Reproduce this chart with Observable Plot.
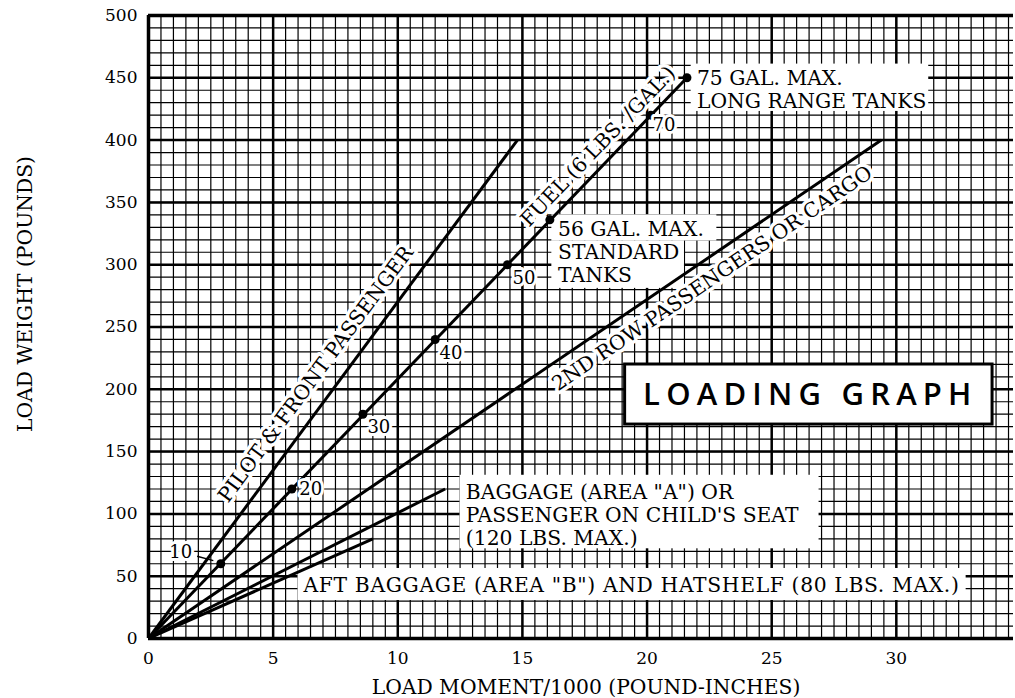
<!DOCTYPE html>
<html><head><meta charset="utf-8">
<script src="https://cdn.jsdelivr.net/npm/d3@7"></script>
<script src="https://cdn.jsdelivr.net/npm/@observablehq/plot@0.6"></script>
<style>body{margin:0;background:#fff} svg{display:block}</style>
</head><body><div id="chart"></div>
<script>
// ---- data ----
const xTicks = [0, 5, 10, 15, 20, 25, 30];
const yTicks = [0, 50, 100, 150, 200, 250, 300, 350, 400, 450, 500];
const lineNames = ["PILOT & FRONT PASSENGER", "FUEL", "2ND ROW PASSENGERS OR CARGO", "BAGGAGE A", "AFT BAGGAGE"];
const lineEndMoment = [14.8, 21.6, 29.4, 11.9, 9.0];
const lineEndWeight = [400, 450, 400, 120, 80];
const fuelGallons = [10, 20, 30, 40, 50, 56, 70, 75];
const fuelMoment = [2.9, 5.75, 8.6, 11.5, 14.4, 16.1, 20.15, 21.6];
const fuelWeight = [60, 120, 180, 240, 300, 336, 420, 450];
const fuelLabelText = ["10", "20", "30", "40", "50", "70"];
const xLabel = "LOAD MOMENT/1000 (POUND-INCHES)";
const yLabel = "LOAD WEIGHT (POUNDS)";
const title = "LOADING GRAPH";
const aftText = "AFT BAGGAGE (AREA \"B\") AND HATSHELF (80 LBS. MAX.)";

// annotation placement (data units)
const fuelLabelPos = [[1.29, 69], [6.51, 119.6], [9.24, 169.3], [12.13, 228.7], [15.06, 288.9], [20.68, 411.7]];
const boxNotes = [
  {x1: 12.5, x2: 26.9, y1: 72, y2: 131, x: 12.73, y: 99.5, text: "BAGGAGE (AREA \"A\") OR\nPASSENGER ON CHILD'S SEAT\n(120 LBS. MAX.)"},
  {x1: 6.0, x2: 32.8, y1: 30.5, y2: 56.2, x: 6.22, y: 43.3, text: aftText},
  {x1: 21.77, x2: 31.3, y1: 423, y2: 461, x: 22.0, y: 441, text: "75 GAL. MAX.\nLONG RANGE TANKS"},
  {x1: 16.18, x2: 22.8, y1: 319, y2: 340, x: 16.43, y: 310.6, text: "56 GAL. MAX.\nSTANDARD\nTANKS"}
];
const extraWhite = [{x1: 16.18, x2: 21.5, y1: 281, y2: 319}];
const titleBox = {x1: 19.12, x2: 33.86, y1: 171.7, y2: 219.9, x: 26.55, y: 195};
const lineLabels = [
  {x: 6.71, y: 212, rotate: -53.5, text: "PILOT & FRONT PASSENGER"},
  {x: 18.03, y: 394.9, rotate: -46.2, text: "FUEL (6 LBS. /GAL.)"},
  {x: 22.61, y: 288.9, rotate: -34.3, text: "2ND ROW PASSENGERS OR CARGO"}
];
const leader = [{a: 1.95, b: 66, c: 2.6, d: 62.5}];

const xMax = 34.7;
const lines = lineNames.map((n, i) => ({name: n, m: lineEndMoment[i], w: lineEndWeight[i]}));
const fuel = fuelGallons.map((g, i) => ({g, m: fuelMoment[i], w: fuelWeight[i]}));
const fuelLab = fuelLabelText.map((t, i) => ({t, x: fuelLabelPos[i][0], y: fuelLabelPos[i][1]}));

const serif = "DejaVu Serif";
const fs = 20.3;
const plot = Plot.plot({
  width: 1015, height: 698,
  marginLeft: 148, marginRight: 2, marginTop: 15, marginBottom: 60,
  style: {fontFamily: serif, fontSize: "17px", background: "white", color: "black"},
  x: {domain: [0, xMax]},
  y: {domain: [0, 500]},
  marks: [
    Plot.ruleX(d3.range(0, xMax, 0.5), {stroke: "black", strokeWidth: 1.2}),
    Plot.ruleY(d3.range(0, 501, 10), {stroke: "black", strokeWidth: 1.2}),
    Plot.ruleX(d3.range(0, xMax, 5), {stroke: "black", strokeWidth: 2.5}),
    Plot.ruleY(yTicks, {stroke: "black", strokeWidth: 2.5}),
    Plot.ruleX([0], {stroke: "black", strokeWidth: 3.5}),
    Plot.ruleY([0, 500], {stroke: "black", strokeWidth: 3.5}),
    Plot.axisX({ticks: xTicks, tickSize: 0, tickPadding: 13, label: null, fontSize: 17}),
    Plot.axisY({ticks: yTicks, tickSize: 0, tickPadding: 11, label: null, fontSize: 17}),
    Plot.rect(boxNotes, {x1: "x1", x2: "x2", y1: "y1", y2: "y2", fill: "white"}),
    Plot.rect(extraWhite, {x1: "x1", x2: "x2", y1: "y1", y2: "y2", fill: "white"}),
    Plot.rect([titleBox], {x1: "x1", x2: "x2", y1: "y1", y2: "y2", fill: "white", stroke: "black", strokeWidth: 3}),
    Plot.link(lines, {x1: () => 0, y1: () => 0, x2: "m", y2: "w", stroke: "black", strokeWidth: 3}),
    Plot.dot(fuel, {x: "m", y: "w", r: 4.5, fill: "black"}),
    Plot.link(leader, {x1: "a", y1: "b", x2: "c", y2: "d", stroke: "black", strokeWidth: 1.5}),
    Plot.text(fuelLab, {x: "x", y: "y", text: "t", fontSize: 18, fill: "black", stroke: "white", strokeWidth: 6}),
    Plot.text(lineLabels, {x: "x", y: "y", text: "text", rotate: "rotate", fontSize: fs, fill: "black", stroke: "white", strokeWidth: 7}),
    Plot.text(boxNotes, {x: "x", y: "y", text: "text", textAnchor: "start", lineAnchor: "middle", lineHeight: 1.15, fontSize: fs, fill: "black"}),
    Plot.text([titleBox], {x: "x", y: "y", text: () => title, fontFamily: "Open Sans", fontWeight: 600, fontSize: 31, fill: "black"}),
    Plot.text([xLabel], {frameAnchor: "bottom", textAnchor: "middle", lineAnchor: "middle", dx: 5, dy: 49, fontSize: fs, fill: "black"}),
    Plot.text([yLabel], {frameAnchor: "left", textAnchor: "middle", lineAnchor: "middle", rotate: -90, dx: -123, dy: -33, fontSize: fs, fill: "black"})
  ]
});
document.getElementById("chart").appendChild(plot);
// tracking tweaks to match the typeset widths
d3.select(plot).selectAll("text").filter(function() { return this.textContent === title; })
  .style("letter-spacing", "6.2px");
d3.select(plot).selectAll("text").filter(function() { return this.textContent === aftText; })
  .style("letter-spacing", "0.65px");
</script>
</body></html>
